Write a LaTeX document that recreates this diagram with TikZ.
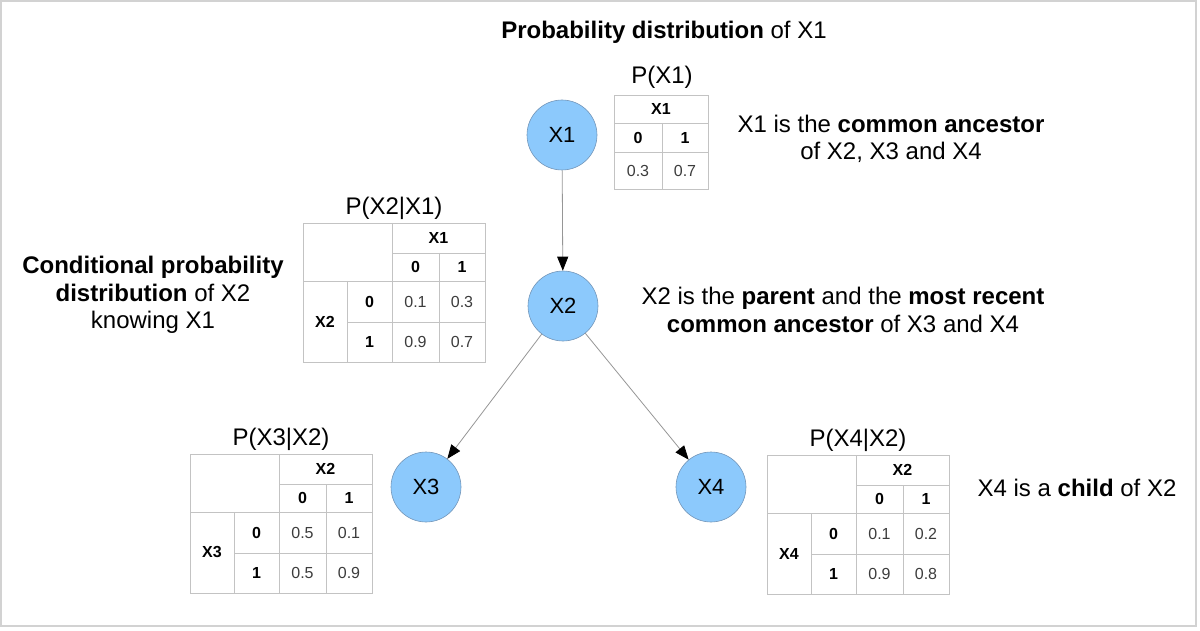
\documentclass[tikz,border=0pt]{standalone}
\usepackage{fontspec}
\setmainfont{Liberation Sans}
\usetikzlibrary{arrows.meta}
\definecolor{nodefill}{RGB}{140,201,252}
\definecolor{nodeline}{RGB}{115,150,185}
\definecolor{tabline}{RGB}{195,195,195}
\definecolor{edgecol}{RGB}{150,150,150}
\definecolor{valcol}{RGB}{60,60,60}
\definecolor{framecol}{RGB}{210,210,210}
\tikzset{
  big/.style={font=\fontsize{24}{27.5}\selectfont, align=center, inner sep=0pt},
  hd/.style={font=\fontsize{16}{19}\selectfont\bfseries, inner sep=0pt},
  val/.style={font=\fontsize{16}{19}\selectfont, text=valcol, inner sep=0pt},
  tab/.style={draw=tabline, line width=0.8pt},
  var/.style={circle, draw=nodeline, fill=nodefill, minimum size=70pt, inner sep=0pt,
    font=\fontsize{22}{26}\selectfont, line width=0.6pt},
  edge/.style={draw=edgecol, line width=0.8pt, -{Triangle[length=14pt,width=11pt,color=black]}}
}
\newcommand{\cptable}[9]{%
\begin{scope}[shift={(#1,#2)}]
\node[big] at (91,-15) {#3};
\draw[tab] (0,0) rectangle (182,139);
\draw[tab] (89,0) -- (89,139);
\draw[tab] (44,58) -- (44,139);
\draw[tab] (136,30) -- (136,139);
\draw[tab] (89,30) -- (182,30);
\draw[tab] (0,58) -- (182,58);
\draw[tab] (44,99) -- (182,99);
\node[hd] at (135.5,15) {#4};
\node[hd] at (112.5,44) {0};
\node[hd] at (159,44) {1};
\node[hd] at (22,98.5) {#5};
\node[hd] at (66.5,78.5) {0};
\node[hd] at (66.5,119) {1};
\node[val] at (112.5,78.5) {#6};
\node[val] at (159,78.5) {#7};
\node[val] at (112.5,119) {#8};
\node[val] at (159,119) {#9};
\end{scope}}
\begin{document}
\begin{tikzpicture}[x=1pt,y=-1pt]
\useasboundingbox (0,0) rectangle (1200,631);
\draw[framecol, line width=1.5pt] (1,1) rectangle (1196,626);

% nodes
\node[var] (x1) at (562,135) {X1};
\node[var] (x2) at (563,306) {X2};
\node[var] (x3) at (426,487) {X3};
\node[var] (x4) at (711,487) {X4};

\draw[edge] (x1) -- (x2);
\draw[edge] (x2) -- (x3);
\draw[edge] (x2) -- (x4);

% P(X1)
\node[big] (t1title) at (662,77) {P(X1)};
\draw[tab] (614,95) rectangle (708,189);
\draw[tab] (614,123) -- (708,123);
\draw[tab] (614,152) -- (708,152);
\draw[tab] (662,123) -- (662,189);
\node[hd] (t1h) at (661,109) {X1};
\node[hd] (t1a) at (638,137.5) {0};
\node[hd] (t1b) at (685,137.5) {1};
\node[val] (t1c) at (638,170.5) {0.3};
\node[val] (t1d) at (685,170.5) {0.7};

\cptable{303}{223}{P(X2|X1)}{X1}{X2}{0.1}{0.3}{0.9}{0.7}
\cptable{190}{454}{P(X3|X2)}{X2}{X3}{0.5}{0.1}{0.5}{0.9}
\cptable{767}{455}{P(X4|X2)}{X2}{X4}{0.1}{0.2}{0.9}{0.8}

% texts
\node[big] (ttop) at (664,32) {\textbf{Probability distribution} of X1};
\node[big] (tx1) at (891,139) {X1 is the \textbf{common ancestor}\\of X2, X3 and X4};
\node[big] (tcond) at (153,295) {\textbf{Conditional probability}\\\textbf{distribution} of X2\\knowing X1};
\node[big] (tx2) at (843,310) {X2 is the \textbf{parent} and the \textbf{most recent}\\\textbf{common ancestor} of X3 and X4};
\node[big] (tx4) at (1077,488) {X4 is a \textbf{child} of X2};
\end{tikzpicture}
\end{document}
